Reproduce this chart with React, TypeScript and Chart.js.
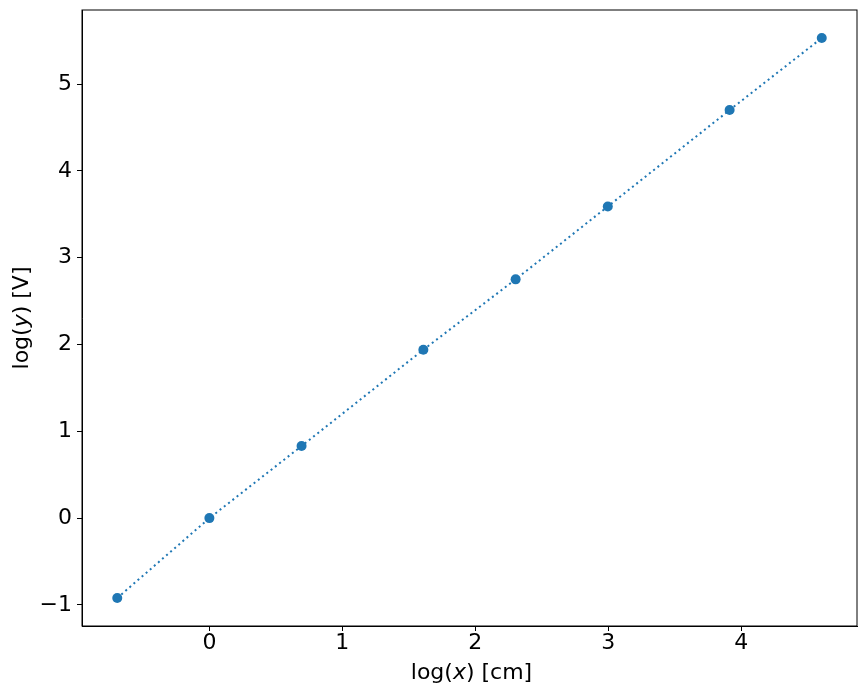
import { useEffect, useRef } from 'react';
import { Chart } from 'chart.js/auto';

const logX = [-0.693, 0, 0.693, 1.609, 2.303, 2.996, 3.912, 4.605];
const logY = [-0.92, 0.0, 0.83, 1.94, 2.75, 3.59, 4.7, 5.53];
const xTicks = [0, 1, 2, 3, 4];
const yTicks = [-1, 0, 1, 2, 3, 4, 5];

const BLUE = '#1f77b4';
const FONT = '"DejaVu Sans", sans-serif';
const FS = 22;

type Part = { text: string; italic?: boolean };

// draws a label centred on x, with some pieces in oblique (like mathtext)
function drawMixed(ctx: CanvasRenderingContext2D, parts: Part[], x: number, y: number) {
  const fontOf = (p: Part) => `${p.italic ? 'oblique ' : ''}${FS}px ${FONT}`;
  let total = 0;
  for (const p of parts) {
    ctx.font = fontOf(p);
    total += ctx.measureText(p.text).width;
  }
  let cx = x - total / 2;
  ctx.textAlign = 'left';
  ctx.textBaseline = 'alphabetic';
  for (const p of parts) {
    ctx.font = fontOf(p);
    ctx.fillText(p.text, cx, y);
    cx += ctx.measureText(p.text).width;
  }
}

const framePlugin = {
  id: 'frame',
  afterDraw(chart: Chart) {
    const { ctx, chartArea } = chart;
    ctx.save();
    ctx.strokeStyle = '#000';
    ctx.lineWidth = 1;
    ctx.strokeRect(chartArea.left, chartArea.top, chartArea.right - chartArea.left, chartArea.bottom - chartArea.top);
    ctx.fillStyle = '#000';
    drawMixed(ctx, [{ text: 'log(' }, { text: 'x', italic: true }, { text: ') [cm]' }], (chartArea.left + chartArea.right) / 2 + 2, 679);
    ctx.translate(28, (chartArea.top + chartArea.bottom) / 2);
    ctx.rotate(-Math.PI / 2);
    drawMixed(ctx, [{ text: 'log(' }, { text: 'y', italic: true }, { text: ') [V]' }], 0, 0);
    ctx.restore();
  },
};

export default function App() {
  const canvasRef = useRef<HTMLCanvasElement>(null);
  const chartRef = useRef<Chart | null>(null);

  useEffect(() => {
    document.body.style.margin = '0';
    if (!canvasRef.current) return;
    chartRef.current?.destroy();
    chartRef.current = new Chart(canvasRef.current, {
      type: 'scatter',
      data: {
        datasets: [
          {
            data: logX.map((x, i) => ({ x, y: logY[i] })),
            showLine: true,
            borderColor: BLUE,
            backgroundColor: BLUE,
            borderWidth: 2,
            borderDash: [2, 3.4],
            pointRadius: 5,
            pointHoverRadius: 5,
            pointBorderWidth: 0,
          },
        ],
      },
      options: {
        responsive: false,
        animation: false,
        layout: { padding: { left: 0, top: 10, right: 10, bottom: 0 } },
        plugins: { legend: { display: false }, tooltip: { enabled: false } },
        scales: {
          x: {
            type: 'linear',
            min: -0.958,
            max: 4.87,
            afterBuildTicks: (s: any) => { s.ticks = xTicks.map((value) => ({ value })); },
            afterFit: (s: any) => { s.height = 69; s.paddingLeft = 0; s.paddingRight = 0; },
            grid: { drawOnChartArea: false, drawTicks: true, tickLength: 5, color: '#000', lineWidth: 1 },
            border: { display: true, color: '#000', width: 1 },
            ticks: { color: '#000', padding: -1, font: { family: FONT, size: FS }, callback: (v: any) => String(v) },
          },
          y: {
            type: 'linear',
            min: -1.2425,
            max: 5.8525,
            afterBuildTicks: (s: any) => { s.ticks = yTicks.map((value) => ({ value })); },
            afterFit: (s: any) => { s.width = 82; s.paddingTop = 0; s.paddingBottom = 0; },
            grid: { drawOnChartArea: false, drawTicks: true, tickLength: 5, color: '#000', lineWidth: 1 },
            border: { display: true, color: '#000', width: 1 },
            ticks: {
              color: '#000',
              padding: 5,
              font: { family: FONT, size: FS },
              callback: (v: any) => (v < 0 ? '\u2212' + Math.abs(v) : String(v)),
            },
          },
        },
      },
      plugins: [framePlugin],
    });
    return () => chartRef.current?.destroy();
  }, []);

  return (
    <div style={{ width: 867, height: 695, background: '#fff' }}>
      <canvas ref={canvasRef} width={867} height={695} />
    </div>
  );
}
